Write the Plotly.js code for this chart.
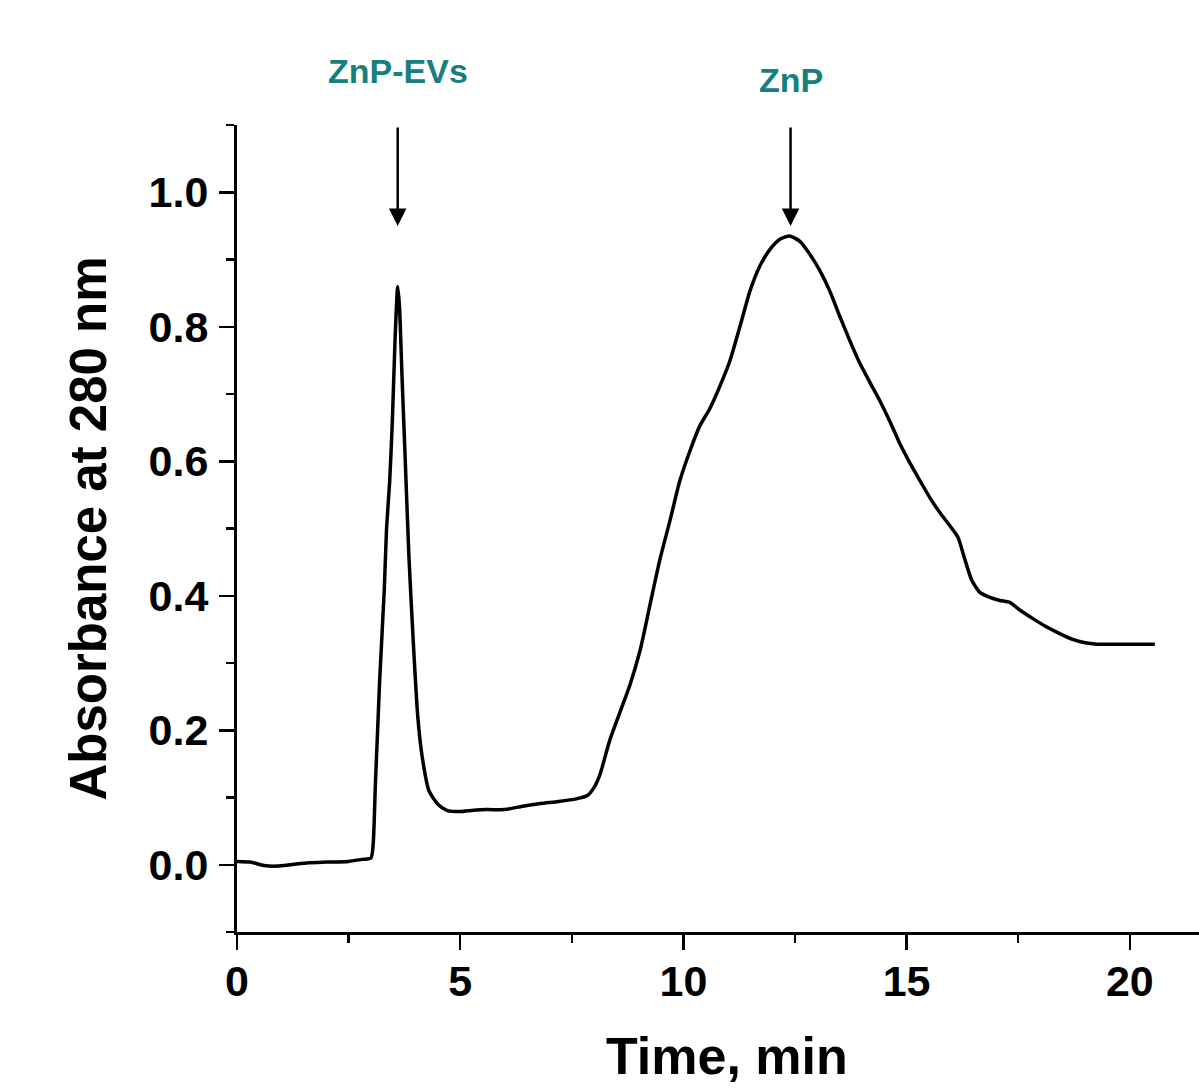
<!DOCTYPE html>
<html>
<head>
<meta charset="utf-8">
<script src="https://cdn.plot.ly/plotly-3.0.1.min.js"></script>
<style>html,body{margin:0;padding:0;background:#fff;}#chart{width:1199px;height:1088px;}</style>
</head>
<body>
<div id="chart"></div>
<script>
const timeMin = [0.00,0.3,0.6,0.9,1.2,1.6,2.0,2.5,2.8,3.0,3.05,3.1,3.15,3.2,3.3,3.35,3.42,3.48,3.54,3.60,3.64,3.7,3.77,3.85,3.95,4.05,4.15,4.3,4.5,4.7,5.0,5.3,5.6,6.0,6.4,6.8,7.2,7.6,7.85,8.0,8.13,8.35,8.58,8.8,9.03,9.25,9.47,9.7,9.92,10.15,10.37,10.59,10.82,11.04,11.27,11.49,11.71,11.94,12.16,12.38,12.61,12.83,13.06,13.28,13.5,13.73,13.95,14.18,14.4,14.62,14.85,15.07,15.3,15.52,15.74,15.97,16.15,16.3,16.46,16.64,16.85,17.09,17.31,17.55,17.83,18.1,18.36,18.72,19.0,19.26,19.8,20.56];
const absorbance = [0.005,0.004,-0.001,-0.002,0.000,0.003,0.004,0.005,0.008,0.010,0.03,0.12,0.20,0.28,0.41,0.50,0.57,0.66,0.78,0.86,0.83,0.72,0.60,0.46,0.33,0.22,0.16,0.11,0.09,0.081,0.079,0.081,0.082,0.082,0.087,0.091,0.094,0.098,0.103,0.115,0.134,0.185,0.227,0.267,0.319,0.386,0.453,0.512,0.571,0.616,0.653,0.678,0.712,0.749,0.801,0.853,0.89,0.915,0.930,0.935,0.927,0.908,0.883,0.853,0.816,0.779,0.746,0.717,0.69,0.66,0.626,0.598,0.571,0.546,0.524,0.504,0.487,0.455,0.423,0.405,0.398,0.393,0.390,0.378,0.366,0.355,0.346,0.335,0.330,0.328,0.328,0.328];
const peakLabels = ["ZnP-EVs", "ZnP"];
const peakTimes = [3.6, 12.4];
const peakArrowTips = [0.95, 0.95];
const xTickVals = [0, 5, 10, 15, 20];
const yTickVals = [0.0, 0.2, 0.4, 0.6, 0.8, 1.0];
const xTitle = "Time, min";
const yTitle = "Absorbance at 280 nm";

const FONT = '"Liberation Sans", Arial, sans-serif';
const teal = '#17807f';

const annotations = [];
peakLabels.forEach((lab, i) => {
  annotations.push({
    x: peakTimes[i], y: peakArrowTips[i], xref: 'x', yref: 'y',
    text: '', showarrow: true, arrowhead: 2, arrowsize: 1.4, arrowwidth: 2.5,
    arrowcolor: '#000', ax: 0, ay: -100, standoff: 0
  });
  annotations.push({
    x: peakTimes[i], y: 1.0, xref: 'x', yref: 'paper',
    text: '<b>' + lab + '</b>', showarrow: false,
    yanchor: 'bottom', yshift: i === 0 ? 33 : 24,
    font: {family: FONT, size: 34, color: teal}
  });
});
annotations.push({
  x: 0.5094, y: 0, xref: 'paper', yref: 'paper',
  text: '<b>' + xTitle + '</b>', showarrow: false,
  xanchor: 'center', yanchor: 'middle', yshift: -124,
  font: {family: FONT, size: 52, color: '#000'}
});

const trace = {
  x: timeMin, y: absorbance, type: 'scatter', mode: 'lines',
  line: {color: '#000', width: 3.5, shape: 'spline', smoothing: 0.6},
  hoverinfo: 'skip'
};

const layout = {
  width: 1199, height: 1088,
  margin: {l: 237, r: 0, t: 125, b: 156},
  paper_bgcolor: '#fff', plot_bgcolor: '#fff',
  showlegend: false,
  font: {family: FONT, color: '#000'},
  xaxis: {
    range: [0, 21.55], showgrid: false, zeroline: false,
    showline: true, linecolor: '#000', linewidth: 3,
    ticks: 'outside', ticklen: 15, tickwidth: 2.5, tickcolor: '#000',
    tickvals: xTickVals, ticktext: xTickVals.map(v => '<b>' + v + '</b>'),
    tickfont: {family: FONT, size: 43, color: '#000'},
    ticklabelstandoff: -6,
    minor: {dtick: 2.5, tick0: 0, ticks: 'outside', ticklen: 8, tickwidth: 2.5, tickcolor: '#000', showgrid: false}
  },
  yaxis: {
    range: [-0.1, 1.1], showgrid: false, zeroline: false,
    showline: true, linecolor: '#000', linewidth: 3,
    ticks: 'outside', ticklen: 15, tickwidth: 2.5, tickcolor: '#000',
    tickvals: yTickVals, ticktext: yTickVals.map(v => '<b>' + v.toFixed(1) + '</b>'),
    tickfont: {family: FONT, size: 43, color: '#000'},
    ticklabelstandoff: 2,
    minor: {dtick: 0.1, tick0: 0, ticks: 'outside', ticklen: 8, tickwidth: 2.5, tickcolor: '#000', showgrid: false},
    title: {text: '<b>' + yTitle + '</b>', font: {family: FONT, size: 51, color: '#000'}, standoff: 26}
  },
  annotations: annotations
};

Plotly.newPlot('chart', [trace], layout, {staticPlot: true, displayModeBar: false});
</script>
</body>
</html>
